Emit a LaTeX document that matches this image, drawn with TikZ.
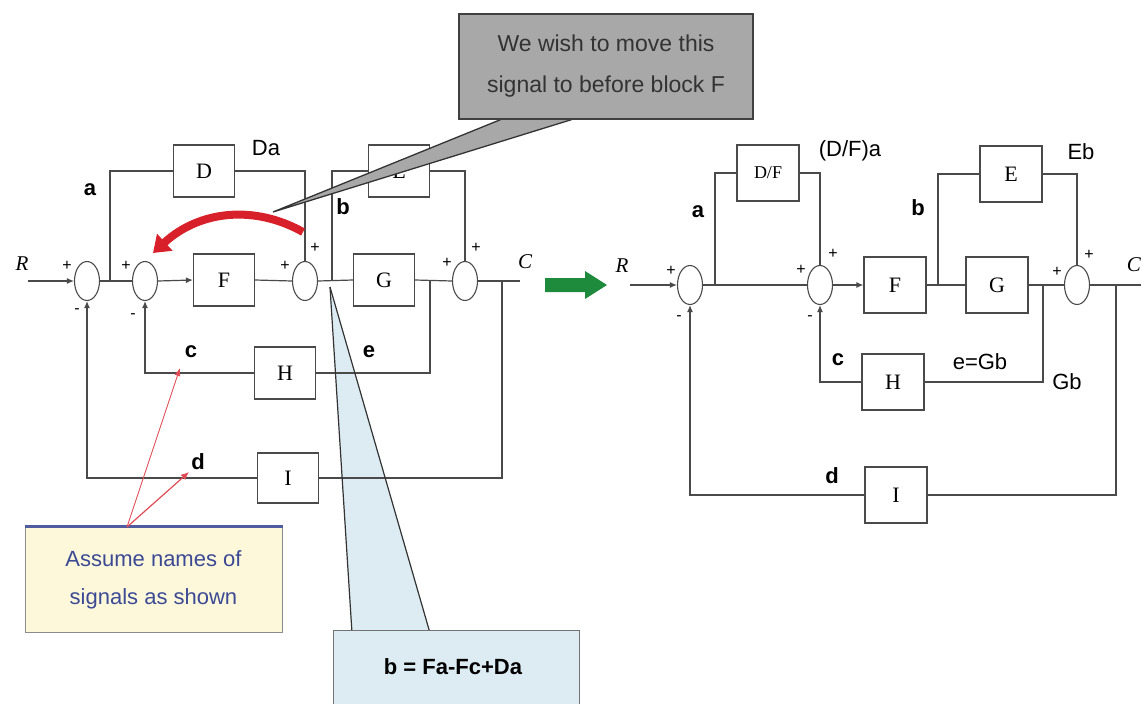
\documentclass[tikz,border=0pt]{standalone}
\usepackage{fontspec}
\setmainfont{Liberation Serif}
\setsansfont{Liberation Sans}
\usetikzlibrary{arrows.meta,shapes.geometric,calc}
\definecolor{lncol}{HTML}{4A4A4A}
\definecolor{callgray}{HTML}{A8A8A8}
\definecolor{callyel}{HTML}{FDF8DA}
\definecolor{callblue}{HTML}{DCECF2}
\definecolor{txtblue}{HTML}{3C4A96}
\definecolor{arrred}{HTML}{D8202A}
\definecolor{arrgreen}{HTML}{1E8A3C}
\begin{document}
\begin{tikzpicture}[x=1pt,y=-1pt,
 ln/.style={draw=lncol, line width=1.2pt},
 arr/.style={-{Latex[length=7pt,width=6pt]}},
 blk/.style={draw=lncol, line width=1.2pt, minimum width=61pt, minimum height=52pt, inner sep=0pt, font=\fontsize{22}{22}\selectfont},
 rblk/.style={blk, minimum width=62pt, minimum height=56pt},
 sumj/.style={ellipse, draw=lncol, line width=1.1pt, minimum width=25pt, minimum height=39pt, inner sep=0pt},
 lbl/.style={font=\sffamily\bfseries\fontsize{22}{22}\selectfont, inner sep=0pt},
 slbl/.style={font=\sffamily\fontsize{22}{22}\selectfont, inner sep=0pt},
 sgn/.style={font=\sffamily\fontsize{16}{16}\selectfont, inner sep=0pt},
 io/.style={font=\itshape\fontsize{21}{21}\selectfont, inner sep=0pt}
]
\useasboundingbox (0,0) rectangle (1141,704);

% ---------- blue callout wedge (behind the diagram) ----------
\coordinate (bw1) at (330,287);
\coordinate (bw2) at (352,633);
\coordinate (bw3) at (430,633);
\fill[callblue] (bw1) -- (bw2) -- (bw3) -- cycle;

% ---------- left diagram ----------
\node[sumj] (s1) at (87,281) {};
\node[sumj] (s2) at (145,281) {};
\node[sumj] (s3) at (305,281) {};
\node[sumj] (s4) at (465,281) {};
\node[blk] (D) at (204,171) {D};
\node[blk] (F) at (224,280) {F};
\node[blk] (G) at (384,280) {G};
\node[blk] (E) at (399,171) {E};
\node[blk] (H) at (285,373) {H};
\node[blk, minimum height=50pt] (I) at (288,478) {I};

\coordinate (rin) at (28,281);
\coordinate (cout) at (520,281);
\coordinate (pa) at (110,281);
\coordinate (pb) at (332,281);
\coordinate (pe) at (430,281);
\coordinate (pc) at (502,281);

\draw[ln,arr] (rin) -- (s1.west);
\draw[ln] (s1.east) -- (s2.west);
\draw[ln,arr] (s2.east) -- (F.west);
\draw[ln] (F.east) -- (s3.west);
\draw[ln] (s3.east) -- (G.west);
\draw[ln] (G.east) -- (s4.west);
\draw[ln] (s4.east) -- (cout);
\draw[ln] (pa) |- (D.west);
\draw[ln] (D.east) -| (s3.north);
\draw[ln] (pb) |- (E.west);
\draw[ln] (E.east) -| (s4.north);
\draw[ln] (pe) |- (H.east);
\draw[ln,arr] (H.west) -| (s2.south);
\draw[ln] (pc) |- (I.east);
\draw[ln,arr] (I.west) -| (s1.south);

\node[io] (lR) at (22,264) {R};
\node[io] (lC) at (525,262) {C};
\node[sgn] (g1) at (67,266) {+};
\node[sgn] (g2) at (77,311) {-};
\node[sgn] (g3) at (126,266) {+};
\node[sgn] (g4) at (133,316) {-};
\node[sgn] (g5) at (285,266) {+};
\node[sgn] (g6) at (315,248) {+};
\node[sgn] (g7) at (447,263) {+};
\node[sgn] (g8) at (476,248) {+};
\node[lbl] (la) at (90,190) {a};
\node[slbl] (lDa) at (266,148) {Da};
\node[lbl] (lb) at (343,207) {b};
\node[lbl] (lc) at (191,352) {c};
\node[lbl] (le) at (369,352) {e};
\node[lbl] (ld) at (198,462) {d};

% ---------- red curved arrow ----------
\coordinate (ra1) at (303,232);
\coordinate (ra2) at (153,253);
\draw[arrred, line width=8pt, -{Triangle[length=16pt,width=22pt]}]
  (ra1) .. controls (255,205) and (200,210) .. (ra2);

% ---------- gray callout ----------
\coordinate (gw1) at (507,117);
\coordinate (gw2) at (273,212);
\coordinate (gw3) at (580,117);
\filldraw[fill=callgray, draw=black!80, line width=1.3pt] (gw1) -- (gw2) -- (gw3);
\node[draw=black!75, line width=2pt, fill=callgray, minimum width=294pt, minimum height=105pt, inner sep=0pt,
      font=\sffamily\fontsize{23}{41}\selectfont, text=black!80, align=center] (gbox) at (606,66)
      {We wish to move this\\signal to before block F};

% ---------- blue callout box ----------
\draw[black!80, line width=1.2pt] (bw1) -- (bw2);
\draw[black!80, line width=1.2pt] (bw1) -- (bw3);
\node[draw=black!55, line width=1pt, fill=callblue, minimum width=246pt, minimum height=80pt, inner sep=0pt,
      anchor=north west] (bbox) at (333,630) {};
\node[font=\sffamily\bfseries\fontsize{22}{22}\selectfont, inner sep=0pt] (btxt) at (453,667) {b = Fa-Fc+Da};

% ---------- yellow callout ----------
\node[draw=black!45, line width=1pt, fill=callyel, minimum width=257pt, minimum height=105pt, inner sep=0pt,
      font=\sffamily\fontsize{22}{38}\selectfont, text=txtblue, align=center] (ybox) at (153.5,579.5)
      {Assume names of\\signals as shown};
\draw[txtblue!90, line width=3pt] (ybox.north west) -- (ybox.north east);
\coordinate (yp) at (127,527);
\coordinate (ctip) at (180,368);
\coordinate (dtip) at (189,472);
\draw[arrred!80, line width=0.8pt, -{Latex[length=8pt,width=6pt]}] (yp) -- (ctip);
\draw[arrred!80, line width=1.2pt, -{Latex[length=8pt,width=7pt]}] (yp) -- (dtip);

% ---------- green arrow ----------
\fill[arrgreen] (545,278) -- (585,278) -- (585,271) -- (607,285) -- (585,299) -- (585,292) -- (545,292) -- cycle;

% ---------- right diagram ----------
\node[sumj] (r1) at (690,285) {};
\node[sumj] (r2) at (820,285) {};
\node[sumj] (r3) at (1077,285) {};
\node[rblk, font=\fontsize{18}{18}\selectfont] (DF) at (768,173) {D/F};
\node[rblk] (RF) at (895,285) {F};
\node[rblk] (RG) at (997,285) {G};
\node[rblk] (RE) at (1011,174) {E};
\node[rblk] (RH) at (893,382) {H};
\node[rblk] (RI) at (896,495) {I};

\coordinate (rin2) at (630,285);
\coordinate (rout) at (1141,285);
\coordinate (qa) at (715,285);
\coordinate (qb) at (938,285);
\coordinate (qe) at (1043,285);
\coordinate (qc) at (1116,285);

\draw[ln,arr] (rin2) -- (r1.west);
\draw[ln] (r1.east) -- (r2.west);
\draw[ln,arr] (r2.east) -- (RF.west);
\draw[ln] (RF.east) -- (RG.west);
\draw[ln] (RG.east) -- (r3.west);
\draw[ln] (r3.east) -- (rout);
\draw[ln] (qa) |- (DF.west);
\draw[ln] (DF.east) -| (r2.north);
\draw[ln] (qb) |- (RE.west);
\draw[ln] (RE.east) -| (r3.north);
\draw[ln] (qe) |- (RH.east);
\draw[ln,arr] (RH.west) -| (r2.south);
\draw[ln] (qc) |- (RI.east);
\draw[ln,arr] (RI.west) -| (r1.south);

\node[io] (rR) at (622,266) {R};
\node[io, anchor=east] (rC) at (1141,265) {C};
\node[sgn] (h1) at (671,271) {+};
\node[sgn] (h2) at (679,318) {-};
\node[sgn] (h3) at (801,270) {+};
\node[sgn] (h4) at (833,254) {+};
\node[sgn] (h5) at (810,318) {-};
\node[sgn] (h6) at (1057,272) {+};
\node[sgn] (h7) at (1089,255) {+};
\node[lbl] (ra) at (698,212) {a};
\node[slbl] (rDFa) at (850,151) {(D/F)a};
\node[lbl] (rb) at (918,208) {b};
\node[slbl] (rEb) at (1081,152) {Eb};
\node[lbl] (rc) at (838,360) {c};
\node[slbl] (reGb) at (980,362) {e=Gb};
\node[slbl] (rGb) at (1067,382) {Gb};
\node[lbl] (rd) at (832,476) {d};
\end{tikzpicture}
\end{document}
